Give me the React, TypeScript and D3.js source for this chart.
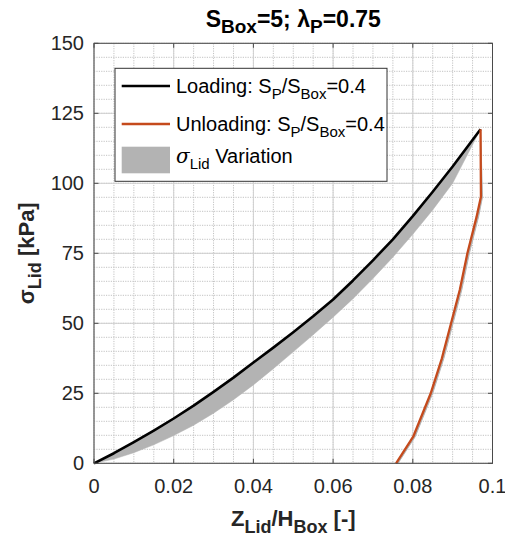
import React from "react";
import * as d3 from "d3";

// ---------- data ----------
const xTicks = [0, 0.02, 0.04, 0.06, 0.08, 0.1];
const xTickLabels = ["0", "0.02", "0.04", "0.06", "0.08", "0.1"];
const yTicks = [0, 25, 50, 75, 100, 125, 150];
const yTickLabels = ["0", "25", "50", "75", "100", "125", "150"];

const loadX = [0, 0.005, 0.01, 0.015, 0.02, 0.025, 0.03, 0.035, 0.04, 0.045, 0.05, 0.055, 0.06, 0.065, 0.07, 0.075, 0.08, 0.085, 0.09, 0.097];
const loadUpper = [0, 3.6, 7.6, 11.7, 16, 20.6, 25.5, 30.6, 36, 41.3, 46.8, 52.5, 58.5, 65.3, 72.5, 80, 88.3, 97, 106, 119.3];
const loadLower = [0, 1.5, 3.8, 6.6, 9.9, 13.6, 17.9, 22.7, 28, 33.8, 39.8, 45.9, 52.2, 58.8, 66, 73.6, 81.8, 90.5, 100, 119.3];

const unloadSigma = [119.3, 95.2, 88, 75, 62, 50, 37.5, 25, 9.5, 0];
const unloadX = [0.097, 0.0971, 0.096, 0.0937, 0.0918, 0.0896, 0.0873, 0.0845, 0.0801, 0.0758];
const unloadXOuter = [0.097, 0.0975, 0.0965, 0.0942, 0.0923, 0.0901, 0.0878, 0.085, 0.0806, 0.0763];

const legendLabels = ["Loading: ", "Unloading: ", " Variation"];

// ---------- layout ----------
const W = 505, H = 538;
const L = 94, R = 492.5, T = 43.3, B = 463.3;
const FONT = "'Liberation Sans', Arial, Helvetica, sans-serif";

export default function App() {
  const x = d3.scaleLinear().domain([0, 0.1]).range([L, R]);
  const y = d3.scaleLinear().domain([0, 150]).range([B, T]);

  const minorX = d3.range(0, 21).map((i) => i * 0.005);
  const minorY = d3.range(0, 31).map((i) => i * 5);

  const bandArea = d3
    .area<number>()
    .x((_, i) => x(loadX[i]))
    .y0((_, i) => y(loadLower[i]))
    .y1((_, i) => y(loadUpper[i]));

  const upperLine = d3
    .line<number>()
    .x((_, i) => x(loadX[i]))
    .y((_, i) => y(loadUpper[i]));

  const unloadLine = d3
    .line<number>()
    .x((_, i) => x(unloadX[i]))
    .y((_, i) => y(unloadSigma[i]));

  const unloadBand = d3
    .area<number>()
    .y((_, i) => y(unloadSigma[i]))
    .x0((_, i) => x(unloadX[i]))
    .x1((_, i) => x(unloadXOuter[i]));

  const idx = loadX.map((_, i) => i);
  const uidx = unloadSigma.map((_, i) => i);

  const tickLen = 4.5;
  const axisColor = "#4a4a4a";

  return (
    <svg
      width={W}
      height={H}
      style={{ position: "absolute", left: 0, top: 0, background: "#fff" }}
      fontFamily={FONT}
    >
      <rect x={0} y={0} width={W} height={H} fill="#fff" />
      <rect x={L} y={T} width={R - L} height={B - T} fill="#fff" />

      {/* minor grid */}
      <g stroke="#c2c2c2" strokeWidth={1} strokeDasharray="1.2,1.2">
        {minorX.map((v, i) => (
          <line key={"mx" + i} x1={x(v)} x2={x(v)} y1={T} y2={B} />
        ))}
        {minorY.map((v, i) => (
          <line key={"my" + i} x1={L} x2={R} y1={y(v)} y2={y(v)} />
        ))}
      </g>
      {/* major grid */}
      <g stroke="#d0d0d0" strokeWidth={1}>
        {xTicks.map((v, i) => (
          <line key={"gx" + i} x1={x(v)} x2={x(v)} y1={T} y2={B} />
        ))}
        {yTicks.map((v, i) => (
          <line key={"gy" + i} x1={L} x2={R} y1={y(v)} y2={y(v)} />
        ))}
      </g>

      {/* data */}
      <path d={bandArea(idx) || ""} fill="#b3b3b3" stroke="#b3b3b3" strokeWidth={0.5} />
      <path d={unloadBand(uidx) || ""} fill="#b3b3b3" stroke="#b3b3b3" strokeWidth={1} />
      <path d={upperLine(idx) || ""} fill="none" stroke="#000" strokeWidth={2.6} strokeLinejoin="round" />
      <path d={unloadLine(uidx) || ""} fill="none" stroke="#C54A1C" strokeWidth={2.3} strokeLinejoin="round" />

      {/* axes box */}
      <rect x={L} y={T} width={R - L} height={B - T} fill="none" stroke={axisColor} strokeWidth={1} />

      {/* ticks */}
      <g stroke={axisColor} strokeWidth={1}>
        {xTicks.map((v, i) => (
          <g key={"tx" + i}>
            <line x1={x(v)} x2={x(v)} y1={B} y2={B - tickLen} />
            <line x1={x(v)} x2={x(v)} y1={T} y2={T + tickLen} />
          </g>
        ))}
        {yTicks.map((v, i) => (
          <g key={"ty" + i}>
            <line x1={L} x2={L + tickLen} y1={y(v)} y2={y(v)} />
            <line x1={R} x2={R - tickLen} y1={y(v)} y2={y(v)} />
          </g>
        ))}
      </g>

      {/* tick labels */}
      <g fontSize={20} fill="#262626">
        {xTicks.map((v, i) => (
          <text key={"lx" + i} x={x(v)} y={492.5} textAnchor="middle">
            {xTickLabels[i]}
          </text>
        ))}
        {yTicks.map((v, i) => (
          <text key={"ly" + i} x={84} y={y(v) + 7} textAnchor="end">
            {yTickLabels[i]}
          </text>
        ))}
      </g>

      {/* title */}
      <text x={(L + R) / 2} y={27} textAnchor="middle" fontSize={23} fontWeight="bold" fill="#000">
        S<tspan fontSize={19} dy={6}>Box</tspan>
        <tspan dy={-6}>=5; λ</tspan>
        <tspan fontSize={19} dy={6}>P</tspan>
        <tspan dy={-6}>=0.75</tspan>
      </text>

      {/* x label */}
      <text x={(L + R) / 2} y={526} textAnchor="middle" fontSize={22} fontWeight="bold" fill="#262626">
        Z<tspan fontSize={18} dy={7}>Lid</tspan>
        <tspan dy={-7}>/H</tspan>
        <tspan fontSize={18} dy={7}>Box</tspan>
        <tspan dy={-7}> [-]</tspan>
      </text>

      {/* y label */}
      <text
        transform={`translate(34,${(T + B) / 2}) rotate(-90)`}
        textAnchor="middle"
        fontSize={22}
        fontWeight="bold"
        fill="#262626"
      >
        σ<tspan fontSize={18} dy={7}>Lid</tspan>
        <tspan dy={-7}> [kPa]</tspan>
      </text>

      {/* legend */}
      <rect x={115} y={68.3} width={272} height={113} fill="#fff" stroke="#333" strokeWidth={1} />
      <line x1={121.7} x2={170} y1={86} y2={86} stroke="#000" strokeWidth={2.6} />
      <line x1={121.7} x2={170} y1={124} y2={124} stroke="#C54A1C" strokeWidth={2.3} />
      <rect x={121.7} y={146.7} width={48.3} height={26.6} fill="#b3b3b3" />
      <g fontSize={20} fill="#000">
        <text x={176} y={92.7}>
          {legendLabels[0]}S<tspan fontSize={15} dy={6}>P</tspan>
          <tspan dy={-6}>/S</tspan>
          <tspan fontSize={15} dy={6}>Box</tspan>
          <tspan dy={-6}>=0.4</tspan>
        </text>
        <text x={176} y={131}>
          {legendLabels[1]}S<tspan fontSize={15} dy={6}>P</tspan>
          <tspan dy={-6}>/S</tspan>
          <tspan fontSize={15} dy={6}>Box</tspan>
          <tspan dy={-6}>=0.4</tspan>
        </text>
        <text x={176} y={162.7}>
          <tspan fontStyle="italic" fontFamily="'DejaVu Serif', serif">σ</tspan>
          <tspan fontSize={15} dy={6}>Lid</tspan>
          <tspan dy={-6}>{legendLabels[2]}</tspan>
        </text>
      </g>
    </svg>
  );
}
